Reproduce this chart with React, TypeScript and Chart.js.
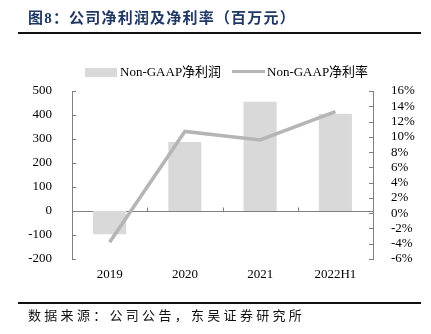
import React, { useEffect, useRef } from "react";
import { Chart, registerables } from "chart.js";

Chart.register(...registerables);

const categories = ["2019", "2020", "2021", "2022H1"];
const netProfit = [-97, 287, 455, 405];
const netMargin = [-3.8, 10.7, 9.6, 13.3];
const leftTicks = { min: -200, max: 500, step: 100 };
const rightTicks = { min: -6, max: 16, step: 2 };

const title = "图8：公司净利润及净利率（百万元）";
const source = "数据来源：公司公告，东吴证券研究所";
const barLabel = "Non-GAAP净利润";
const lineLabel = "Non-GAAP净利率";

const BAR_COLOR = "#d9d9d9";
const LINE_COLOR = "#b5b5b5";
const AXIS_COLOR = "#7f7f7f";
const SERIF = '"Liberation Serif", "Noto Sans CJK SC", serif';

const axisDecor = {
  id: "axisDecor",
  beforeDatasetsDraw(chart: any) {
    const { ctx, chartArea, scales } = chart;
    const y = scales.y;
    const y1 = scales.y1;
    const y0 = Math.round(y.getPixelForValue(0)) + 0.5;
    ctx.save();
    ctx.strokeStyle = AXIS_COLOR;
    ctx.lineWidth = 1;
    ctx.beginPath();
    ctx.moveTo(chartArea.left, y0);
    ctx.lineTo(chartArea.right, y0);
    const n = categories.length;
    const w = (chartArea.right - chartArea.left) / n;
    for (let i = 1; i < n; i++) {
      const x = Math.round(chartArea.left + i * w) + 0.5;
      ctx.moveTo(x, y0);
      ctx.lineTo(x, y0 - 4);
    }
    y.ticks.forEach((t: any) => {
      const py = Math.round(y.getPixelForValue(t.value)) + 0.5;
      ctx.moveTo(chartArea.left, py);
      ctx.lineTo(chartArea.left + 4, py);
    });
    y1.ticks.forEach((t: any) => {
      const py = Math.round(y1.getPixelForValue(t.value)) + 0.5;
      ctx.moveTo(chartArea.right, py);
      ctx.lineTo(chartArea.right - 4, py);
    });
    ctx.stroke();
    ctx.restore();
  },
};

export default function App() {
  const ref = useRef<HTMLCanvasElement>(null);
  useEffect(() => {
    if (!ref.current) return;
    const chart = new Chart(ref.current, {
      type: "bar",
      data: {
        labels: categories,
        datasets: [
          {
            type: "line",
            label: lineLabel,
            data: netMargin,
            yAxisID: "y1",
            borderColor: LINE_COLOR,
            backgroundColor: LINE_COLOR,
            borderWidth: 3.5,
            pointRadius: 0,
            tension: 0,
            order: 0,
          } as any,
          {
            type: "bar",
            label: barLabel,
            data: netProfit,
            yAxisID: "y",
            backgroundColor: BAR_COLOR,
            borderWidth: 0,
            barPercentage: 0.44,
            categoryPercentage: 1,
            order: 1,
          },
        ],
      },
      options: {
        responsive: false,
        animation: false,
        devicePixelRatio: 1,
        layout: { padding: { top: 91, left: 0, right: 0, bottom: 0 } },
        plugins: { legend: { display: false }, tooltip: { enabled: false } },
        scales: {
          x: {
            grid: { display: false },
            border: { display: false },
            ticks: { color: "#000", font: { family: SERIF, size: 13 }, padding: 0 },
            afterFit: (s: any) => {
              s.height = 75;
            },
          },
          y: {
            position: "left",
            min: leftTicks.min,
            max: leftTicks.max,
            grid: { display: false },
            border: { display: true, color: AXIS_COLOR },
            ticks: { stepSize: leftTicks.step, autoSkip: false, color: "#000", font: { family: SERIF, size: 13 }, padding: 12 },
            afterFit: (s: any) => {
              s.width = 72;
            },
          },
          y1: {
            position: "right",
            min: rightTicks.min,
            max: rightTicks.max,
            grid: { display: false },
            border: { display: true, color: AXIS_COLOR },
            ticks: {
              stepSize: rightTicks.step,
              autoSkip: false,
              color: "#000",
              font: { family: SERIF, size: 13 },
              padding: 10,
              callback: (v: any) => v + "%",
            },
            afterFit: (s: any) => {
              s.width = 58;
            },
          },
        },
      } as any,
      plugins: [axisDecor],
    });
    return () => chart.destroy();
  }, []);

  return (
    <div style={{ position: "fixed", left: 0, top: 0, width: 431, height: 334, background: "#fff", overflow: "hidden" }}>
      <canvas ref={ref} width={431} height={334} style={{ position: "absolute", left: 0, top: 0, width: 431, height: 334 }} />
      <div
        style={{
          position: "absolute",
          left: 28,
          top: 8,
          fontFamily: '"Liberation Serif", "Noto Sans CJK SC", serif',
          fontWeight: "bold",
          fontSize: 15,
          letterSpacing: 1.2,
          color: "#1f3864",
          lineHeight: "20px",
          whiteSpace: "nowrap",
        }}
      >
        {title}
      </div>
      <div style={{ position: "absolute", left: 18, top: 32, width: 403, height: 2, background: "#111" }} />
      <div style={{ position: "absolute", left: 85, top: 68, width: 32, height: 9, background: BAR_COLOR }} />
      <div
        style={{ position: "absolute", left: 120, top: 63, fontFamily: SERIF, fontSize: 13, lineHeight: "18px", color: "#000", whiteSpace: "nowrap" }}
      >
        {barLabel}
      </div>
      <div style={{ position: "absolute", left: 232, top: 70, width: 33, height: 3, background: LINE_COLOR }} />
      <div
        style={{ position: "absolute", left: 267, top: 63, fontFamily: SERIF, fontSize: 13, lineHeight: "18px", color: "#000", whiteSpace: "nowrap" }}
      >
        {lineLabel}
      </div>
      <div style={{ position: "absolute", left: 18, top: 302, width: 403, height: 2, background: "#111" }} />
      <div
        style={{
          position: "absolute",
          left: 28,
          top: 306,
          fontFamily: '"Noto Sans CJK SC", sans-serif',
          fontSize: 13,
          letterSpacing: 3.3,
          lineHeight: "18px",
          color: "#111",
          whiteSpace: "nowrap",
        }}
      >
        {source}
      </div>
    </div>
  );
}
